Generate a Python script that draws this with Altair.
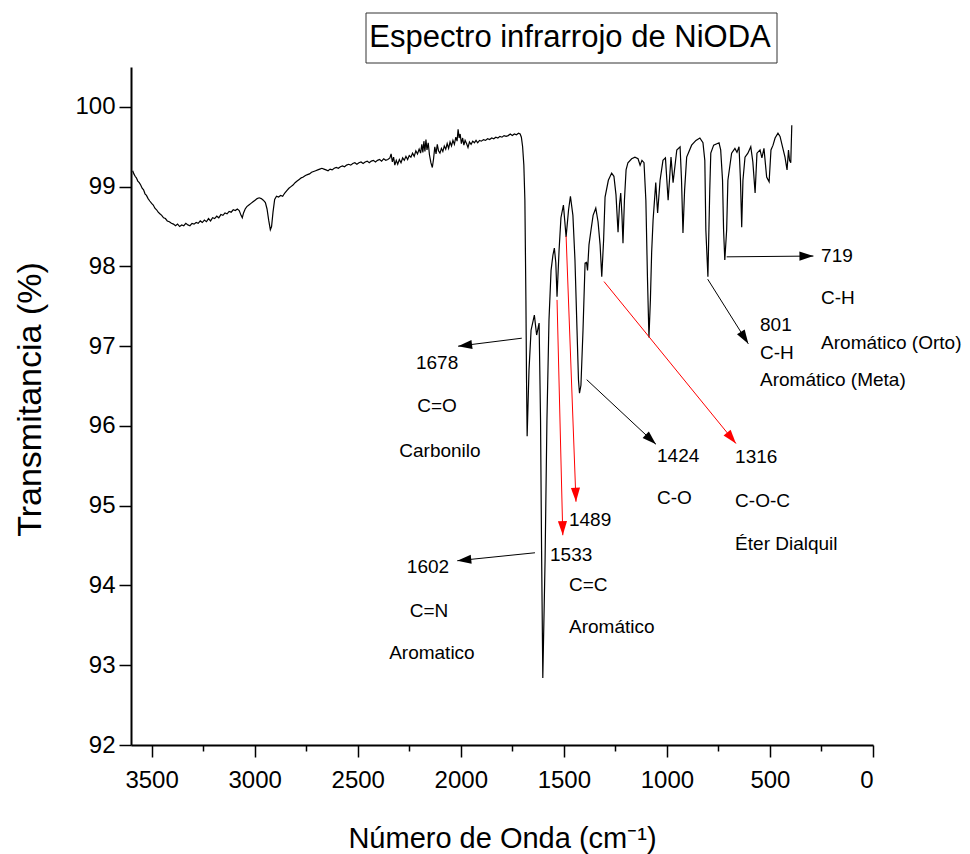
import math
import altair as alt
import pandas as pd

FONT = "Liberation Sans, Arial, sans-serif"
W, H = 742, 678
X_MAX = 3600
Y_MIN, Y_MAX = 92, 100.5

# FTIR spectrum of NiODA: wavenumber (cm-1) and transmittance (%)
wavenumber = [
    3592, 3586, 3580, 3574, 3567, 3560, 3553, 3546, 3539, 3532, 3525, 3517, 3509, 3500,
    3492, 3484, 3476, 3468, 3460, 3451, 3442, 3433, 3424, 3414, 3404, 3394, 3384, 3374,
    3364, 3354, 3344, 3334, 3324, 3314, 3304, 3294, 3284, 3274, 3264, 3254, 3244, 3234,
    3224, 3214, 3204, 3194, 3184, 3174, 3164, 3154, 3144, 3134, 3124, 3114, 3104, 3094,
    3084, 3075, 3066, 3060, 3054, 3046, 3038, 3028, 3018, 3008, 2998, 2988, 2978, 2968,
    2958, 2948, 2940, 2932, 2924, 2918, 2911, 2903, 2894, 2884, 2874, 2864, 2854, 2844,
    2834, 2824, 2814, 2804, 2794, 2784, 2774, 2764, 2754, 2744, 2734, 2724, 2714, 2704,
    2694, 2684, 2674, 2664, 2654, 2644, 2634, 2624, 2614, 2604, 2594, 2584, 2574, 2564,
    2554, 2544, 2534, 2524, 2514, 2504, 2494, 2484, 2474, 2464, 2454, 2444, 2434, 2424,
    2414, 2404, 2394, 2384, 2374, 2364, 2354, 2344, 2338, 2332, 2326, 2320, 2313, 2306,
    2298, 2290, 2282, 2274, 2266, 2258, 2250, 2242, 2234, 2226, 2218, 2210, 2202, 2195,
    2189, 2184, 2179, 2174, 2169, 2164, 2158, 2152, 2145, 2138, 2132, 2126, 2120, 2114,
    2108, 2101, 2094, 2087, 2080, 2073, 2066, 2059, 2052, 2045, 2038, 2031, 2024, 2018,
    2013, 2008, 2003, 1997, 1991, 1985, 1979, 1972, 1965, 1958, 1950, 1942, 1934, 1926,
    1918, 1909, 1900, 1890, 1880, 1870, 1860, 1850, 1840, 1830, 1820, 1810, 1800, 1790,
    1780, 1770, 1760, 1750, 1740, 1730, 1720, 1712, 1706, 1700, 1694, 1689, 1684, 1681,
    1678, 1669, 1659, 1643, 1632, 1620, 1613, 1608, 1602, 1591, 1582, 1572, 1562, 1553,
    1546, 1539, 1533, 1523, 1514, 1502, 1489, 1477, 1468, 1456, 1446, 1436, 1429, 1424,
    1417, 1407, 1397, 1390, 1385, 1378, 1368, 1358, 1345, 1334, 1324, 1316, 1307, 1300,
    1284, 1268, 1257, 1247, 1237, 1230, 1224, 1218, 1213, 1206, 1198, 1189, 1171, 1155,
    1140, 1130, 1121, 1111, 1102, 1094, 1087, 1080, 1074, 1067, 1054, 1045, 1033, 1019,
    1007, 994, 980, 970, 952, 936, 929, 922, 914, 904, 880, 859, 840, 825,
    816, 811, 801, 792, 787, 773, 747, 739, 730, 725, 719, 710, 704, 686,
    670, 660, 650, 643, 637, 631, 621, 607, 593, 583, 572, 563, 548, 539,
    529, 516, 504, 495, 485, 475, 461, 451, 441, 427, 417, 410, 405, 399,
    394,
]
transmittance = [
    99.20, 99.16, 99.13, 99.11, 99.07, 99.05, 99.02, 98.98, 98.96, 98.91, 98.89, 98.85, 98.82, 98.79,
    98.77, 98.73, 98.71, 98.68, 98.66, 98.64, 98.61, 98.60, 98.57, 98.56, 98.54, 98.53, 98.51, 98.53,
    98.50, 98.52, 98.51, 98.54, 98.52, 98.51, 98.54, 98.53, 98.55, 98.54, 98.57, 98.55, 98.58, 98.56,
    98.60, 98.57, 98.61, 98.60, 98.63, 98.61, 98.65, 98.64, 98.67, 98.66, 98.69, 98.68, 98.71, 98.70,
    98.72, 98.70, 98.64, 98.61, 98.67, 98.72, 98.75, 98.77, 98.79, 98.81, 98.83, 98.85, 98.86, 98.85,
    98.83, 98.80, 98.72, 98.58, 98.46, 98.50, 98.68, 98.84, 98.88, 98.87, 98.89, 98.88, 98.92, 98.95,
    98.98, 99.00, 99.02, 99.05, 99.07, 99.09, 99.11, 99.12, 99.14, 99.15, 99.16, 99.18, 99.19, 99.20,
    99.21, 99.22, 99.23, 99.22, 99.21, 99.20, 99.22, 99.21, 99.23, 99.24, 99.23, 99.25, 99.26, 99.25,
    99.27, 99.28, 99.27, 99.29, 99.30, 99.28, 99.30, 99.31, 99.29, 99.31, 99.32, 99.30, 99.32, 99.33,
    99.31, 99.33, 99.34, 99.32, 99.35, 99.33, 99.34, 99.36, 99.41, 99.31, 99.37, 99.27, 99.33, 99.28,
    99.34, 99.30, 99.36, 99.33, 99.38, 99.34, 99.39, 99.37, 99.42, 99.38, 99.45, 99.41, 99.47, 99.42,
    99.53, 99.43, 99.57, 99.44, 99.59, 99.46, 99.55, 99.40, 99.30, 99.24, 99.35, 99.50, 99.41, 99.53,
    99.45, 99.42, 99.48, 99.44, 99.51, 99.47, 99.54, 99.48, 99.56, 99.51, 99.58, 99.53, 99.62, 99.57,
    99.72, 99.61, 99.66, 99.54, 99.61, 99.52, 99.58, 99.54, 99.49, 99.56, 99.53, 99.57, 99.55, 99.58,
    99.55, 99.58, 99.57, 99.59, 99.58, 99.60, 99.59, 99.61, 99.60, 99.62, 99.61, 99.63, 99.62, 99.64,
    99.63, 99.64, 99.66, 99.64, 99.66, 99.65, 99.67, 99.66, 99.62, 99.50, 99.27, 98.83, 97.58, 96.58,
    95.87, 96.70, 97.20, 97.39, 97.14, 97.29, 96.07, 94.44, 92.84, 94.32, 96.07, 97.33, 97.95, 98.14,
    98.23, 98.05, 97.62, 98.21, 98.61, 98.77, 98.37, 98.71, 98.88, 98.64, 98.08, 97.20, 96.58, 96.41,
    96.51, 97.20, 98.04, 98.05, 97.95, 98.27, 98.46, 98.64, 98.73, 98.56, 98.27, 97.87, 98.33, 98.87,
    99.08, 99.17, 99.13, 98.90, 98.43, 98.77, 98.92, 98.64, 98.29, 98.83, 99.21, 99.30, 99.35, 99.37,
    99.35, 99.27, 99.33, 99.30, 98.83, 97.83, 97.11, 97.58, 98.17, 98.58, 99.05, 98.67, 99.08, 99.33,
    99.36, 98.83, 99.37, 99.05, 99.46, 99.50, 99.08, 98.42, 98.96, 99.37, 99.52, 99.58, 99.61, 99.55,
    99.33, 98.46, 97.87, 98.96, 99.42, 99.52, 99.55, 99.46, 99.08, 98.46, 98.08, 98.46, 99.08, 99.42,
    99.48, 99.43, 99.50, 99.08, 98.49, 99.08, 99.37, 99.42, 99.50, 99.31, 98.92, 99.42, 99.46, 99.36,
    99.48, 99.12, 99.06, 99.46, 99.52, 99.61, 99.67, 99.63, 99.52, 99.37, 99.21, 99.46, 99.33, 99.30,
    99.77,
]

# Band assignments: label text, anchor (wavenumber, transmittance), alignment
label_text = [
    "1678", "C=O", "Carbonilo",
    "1602", "C=N", "Aromatico",
    "1489", "1533", "C=C", "Aromático",
    "1424", "C-O",
    "1316", "C-O-C", "Éter Dialquil",
    "801", "C-H", "Aromático (Meta)",
    "719", "C-H", "Aromático (Orto)",
]
label_wn = [
    2115, 2115, 2101,
    2159, 2154, 2140,
    1475, 1567, 1475, 1475,
    1048, 1048,
    669, 669, 669,
    548, 548, 548,
    252, 252, 252,
]
label_t = [
    96.79, 96.25, 95.69,
    94.23, 93.68, 93.15,
    94.82, 94.38, 94.00, 93.48,
    95.62, 95.10,
    95.61, 95.06, 94.52,
    97.27, 96.91, 96.58,
    98.13, 97.60, 97.04,
]
label_align = [
    "center", "center", "center",
    "center", "center", "center",
    "left", "left", "left", "left",
    "left", "left",
    "left", "left", "left",
    "left", "left", "left",
    "left", "left", "left",
]

# Pointer arrows: start (near the band) and tip, plus colour
arrow_wn1 = [1704, 1640, 1533, 1489, 1389, 1305, 802, 710]
arrow_t1 = [97.10, 94.41, 97.58, 98.38, 96.58, 97.81, 97.84, 98.12]
arrow_wn2 = [2013, 2017, 1505, 1441, 1053, 665, 605, 289]
arrow_t2 = [97.00, 94.31, 94.63, 95.05, 95.77, 95.78, 97.03, 98.13]
arrow_color = ["black", "black", "red", "red", "black", "red", "black", "black"]

chart_title = ["Espectro infrarrojo de NiODA"]
X_TITLE = "Número de Onda (cm⁻¹)"
Y_TITLE = "Transmitancia (%)"

spec_df = pd.DataFrame({"wn": wavenumber, "T": transmittance, "i": range(len(wavenumber))})
label_df = pd.DataFrame({"text": label_text, "wn": label_wn, "T": label_t, "align": label_align})

sx = W / X_MAX
sy = H / (Y_MAX - Y_MIN)


def head_angle(x1, y1, x2, y2):
    # screen direction of the arrow (x axis reversed, y axis pointing up)
    dx = -(x2 - x1) * sx
    dy = -(y2 - y1) * sy
    return math.degrees(math.atan2(dx, -dy)) % 360


arrow_df = pd.DataFrame({
    "wn1": arrow_wn1, "t1": arrow_t1, "wn2": arrow_wn2, "t2": arrow_t2,
    "color": arrow_color,
    "angle": [head_angle(a, b, c, d) for a, b, c, d in zip(arrow_wn1, arrow_t1, arrow_wn2, arrow_t2)],
})
title_df = pd.DataFrame({"title": chart_title})

x_scale = alt.Scale(domain=[0, X_MAX], reverse=True, nice=False, zero=False)
y_scale = alt.Scale(domain=[Y_MIN, Y_MAX], nice=False, zero=False)

x_axis = alt.Axis(
    values=list(range(0, 3501, 250)),
    format="d",
    labelExpr="datum.value % 500 === 0 ? datum.label : ''",
    tickSize={"condition": {"test": "datum.value % 500 !== 0", "value": 6}, "value": 12},
    labelFontSize=24,
    labelPadding=11,
    titleFontSize=29,
    titleFontWeight="normal",
    titleY=102,
    titleBaseline="alphabetic",
)
y_axis = alt.Axis(
    values=[92 + 0.5 * k for k in range(17)],
    format="d",
    labelExpr="datum.value % 1 === 0 ? datum.label : ''",
    tickSize={"condition": {"test": "datum.value % 1 !== 0", "value": 6}, "value": 12},
    labelFontSize=24,
    labelPadding=4,
    titleFontSize=34,
    titleFontWeight="normal",
    titleX=-91,
    titleY=332,
    titleAngle=-90,
    titleAlign="center",
    titleBaseline="alphabetic",
)


def xq(field):
    return alt.X(field, type="quantitative", scale=x_scale, axis=x_axis, title=X_TITLE)


def yq(field):
    return alt.Y(field, type="quantitative", scale=y_scale, axis=y_axis, title=Y_TITLE)


title_box = alt.Chart(title_df).mark_rect(fill="white", stroke="#333333", strokeWidth=1).encode(
    x=alt.value(235), x2=alt.value(646), y=alt.value(-54), y2=alt.value(-4)
)
title_text = alt.Chart(title_df).mark_text(
    font=FONT, fontSize=31, align="center", baseline="middle", color="black"
).encode(x=alt.value(439), y=alt.value(-29), text="title:N")

spectrum = alt.Chart(spec_df).mark_line(color="black", strokeWidth=1.2).encode(
    x=xq("wn"),
    y=yq("T"),
    order="i:Q",
)

arrow_lines = alt.Chart(arrow_df).mark_rule(strokeWidth=1).encode(
    x=xq("wn1"),
    y=yq("t1"),
    x2="wn2:Q",
    y2="t2:Q",
    color=alt.Color("color:N", scale=None),
)
arrow_heads = alt.Chart(arrow_df).mark_point(
    shape="M0,0L0.65,2L-0.65,2Z", filled=True, size=196, opacity=1, strokeWidth=0
).encode(
    x=xq("wn2"),
    y=yq("t2"),
    color=alt.Color("color:N", scale=None),
    angle=alt.Angle("angle:Q", scale=None),
)

labels_center = alt.Chart(label_df).transform_filter("datum.align === 'center'").mark_text(
    font=FONT, fontSize=19, align="center", baseline="middle", color="black"
).encode(x=xq("wn"), y=yq("T"), text="text:N")
labels_left = alt.Chart(label_df).transform_filter("datum.align === 'left'").mark_text(
    font=FONT, fontSize=19, align="left", baseline="middle", color="black"
).encode(x=xq("wn"), y=yq("T"), text="text:N")

chart = alt.layer(
    spectrum, title_box, title_text, arrow_lines, arrow_heads, labels_center, labels_left
).properties(
    width=W,
    height=H,
    autosize=alt.AutoSizeParams(type="none"),
    padding={"left": 131, "top": 67, "right": 970 - 131 - W, "bottom": 854 - 67 - H},
    background="white",
).configure_view(
    stroke=None
).configure_axis(
    grid=False,
    domainColor="black",
    domainWidth=2,
    tickColor="black",
    tickWidth=1.5,
    labelColor="black",
    titleColor="black",
    labelFont=FONT,
    titleFont=FONT,
)

chart.save("out.html", embed_options={"renderer": "svg", "actions": False})
